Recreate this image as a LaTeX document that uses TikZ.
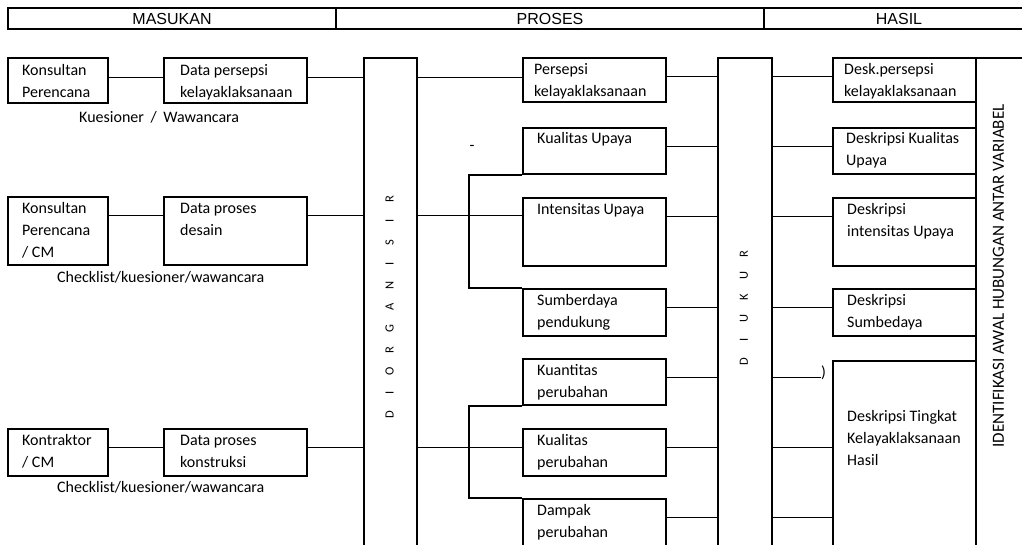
\documentclass[tikz,border=0pt]{standalone}
\usepackage{fontspec}
\setmainfont{Carlito}
\newfontfamily\headfont{Liberation Sans}
\usetikzlibrary{calc}
\newcommand\bodyf{\fontsize{16}{22}\selectfont}
\newcommand\headf{\headfont\fontsize{16}{19}\selectfont}
\newcommand\barf{\fontsize{12.5}{15}\selectfont}
\newcommand\idf{\fontsize{17}{19}\selectfont}
\newcommand\sletter[1]{\makebox[21.5pt]{#1}}
\begin{document}
\begin{tikzpicture}[x=1pt, y=-1pt,
  box/.style={draw, line width=2pt, inner sep=0pt, anchor=north west, minimum width=143pt},
  sbox/.style={box, minimum width=100pt},
  txt/.style={anchor=north west, align=left, inner sep=0pt, font=\bodyf, yshift=15.4pt},
  hdr/.style={draw, line width=2pt, anchor=north west, minimum height=21pt, inner sep=0pt, font=\headf},
  bar/.style={draw, line width=2pt, anchor=north west, minimum height=510pt, inner sep=0pt},
  conn/.style={line width=1pt},
  brk/.style={line width=2pt},
  vtxt/.style={rotate=90, inner sep=0pt, font=\barf}
]
\clip (0,0) rectangle (1022,544);
% header
\node[hdr, minimum width=328pt] (hm) at (7,7) {MASUKAN};
\node[hdr, minimum width=428pt] (hp) at (335,7) {PROSES};
\node[hdr, minimum width=270pt] (hh) at (763,7) {HASIL};
% left column
\node[sbox, minimum height=45pt] (k1) at (7,57) {};
\node[txt] (k1t) at ($(k1.north west)+(15,18)$) {\strut Konsultan\\Perencana};
\node[box, minimum height=45pt] (d1) at (163,57) {};
\node[txt] (d1t) at ($(d1.north west)+(17,18)$) {\strut Data persepsi\\kelayaklaksanaan};
\node[txt] (c1) at (79,122) {\strut Kuesioner\hspace{3pt} / \hspace{3pt}Wawancara};
\node[sbox, minimum height=68pt] (k2) at (7,196) {};
\node[txt] (k2t) at ($(k2.north west)+(15,17)$) {\strut Konsultan\\Perencana\\/ CM};
\node[box, minimum height=68pt] (d2) at (163,196) {};
\node[txt] (d2t) at ($(d2.north west)+(17,17)$) {\strut Data proses\\desain};
\node[txt] (c2) at (57,282) {\strut Checklist/kuesioner/wawancara};
\node[sbox, minimum height=47pt] (k3) at (7,428) {};
\node[txt] (k3t) at ($(k3.north west)+(15,17)$) {\strut Kontraktor\\/ CM};
\node[box, minimum height=47pt] (d3) at (163,428) {};
\node[txt] (d3t) at ($(d3.north west)+(17,17)$) {\strut Data proses\\konstruksi};
\node[txt] (c3) at (57,492) {\strut Checklist/kuesioner/wawancara};
% bars
\node[bar, minimum width=53pt] (org) at (363,57) {};
\node[vtxt] (orgt) at (389.5,307) {\sletter D\sletter I\sletter O\sletter R\sletter G\sletter A\sletter N\sletter I\sletter S\sletter I\sletter R};
\node[bar, minimum width=54pt] (ukr) at (717,57) {};
\node[vtxt] (ukrt) at (744,307.5) {\sletter D\sletter I\sletter U\sletter K\sletter U\sletter R};
% middle column
\node[box, minimum height=44pt] (p1) at (522,57) {};
\node[txt] (p1t) at ($(p1.north west)+(12,17)$) {\strut Persepsi\\kelayaklaksanaan};
\node[box, minimum height=46pt] (p2) at (522,127) {};
\node[txt] (p2t) at ($(p2.north west)+(15,16)$) {\strut Kualitas Upaya};
\node[box, minimum height=68pt] (p3) at (522,197) {};
\node[txt] (p3t) at ($(p3.north west)+(15,17)$) {\strut Intensitas Upaya};
\node[box, minimum height=47pt] (p4) at (522,288) {};
\node[txt] (p4t) at ($(p4.north west)+(15,17)$) {\strut Sumberdaya\\pendukung};
\node[box, minimum height=46pt] (p5) at (522,358) {};
\node[txt] (p5t) at ($(p5.north west)+(15,17)$) {\strut Kuantitas\\perubahan};
\node[box, minimum height=47pt] (p6) at (522,428) {};
\node[txt] (p6t) at ($(p6.north west)+(15,17)$) {\strut Kualitas\\perubahan};
\node[box, minimum height=62pt] (p7) at (522,498) {};
\node[txt] (p7t) at ($(p7.north west)+(15,17)$) {\strut Dampak\\perubahan};
\node[inner sep=0pt, anchor=base, font=\bodyf] (dash) at (472,150) {-};
% right column
\node[box, minimum height=44pt] (r1) at (832,57) {};
\node[txt] (r1t) at ($(r1.north west)+(12,17)$) {\strut Desk.persepsi\\kelayaklaksanaan};
\node[box, minimum height=46pt] (r2) at (832,127) {};
\node[txt] (r2t) at ($(r2.north west)+(14,16)$) {\strut Deskripsi Kualitas\\Upaya};
\node[box, minimum height=68pt] (r3) at (832,197) {};
\node[txt] (r3t) at ($(r3.north west)+(15,17)$) {\strut Deskripsi\\intensitas Upaya};
\node[box, minimum height=47pt] (r4) at (832,288) {};
\node[txt] (r4t) at ($(r4.north west)+(15,17)$) {\strut Deskripsi\\Sumbedaya};
\node[box, minimum height=210pt] (r5) at (832,360) {};
\node[txt] (r5t) at ($(r5.north west)+(15,61)$) {\strut Deskripsi Tingkat\\Kelayaklaksanaan\\Hasil};
\node[box, minimum width=70pt, minimum height=510pt] (idb) at (975,57) {};
\node[rotate=90, inner sep=0pt, font=\idf] (idt) at (998.5,276) {IDENTIFIKASI AWAL HUBUNGAN ANTAR VARIABEL};
% row coordinates
\coordinate (L1) at ($(k1.north west)+(0,20)$);
\coordinate (L2) at ($(k2.north west)+(0,19)$);
\coordinate (L3) at ($(k3.north west)+(0,19)$);
\foreach \n in {1,...,7}{\coordinate (M\n) at ($(p\n.north west)+(0,19)$);}
% left connectors
\draw[conn] (L1 -| k1.east) -- (L1 -| d1.west);
\draw[conn] (L1 -| d1.east) -- (L1 -| org.west);
\draw[conn] (L1 -| org.east) -- (L1 -| p1.west);
\draw[conn] (L2 -| k2.east) -- (L2 -| d2.west);
\draw[conn] (L2 -| d2.east) -- (L2 -| org.west);
\draw[conn] (L2 -| org.east) -- (L2 -| p3.west);
\draw[conn] (L3 -| k3.east) -- (L3 -| d3.west);
\draw[conn] (L3 -| d3.east) -- (L3 -| org.west);
\draw[conn] (L3 -| org.east) -- (L3 -| p6.west);
% brackets
\draw[brk] (p2.south west) -- ++(-53,0) |- (p4.north west);
\draw[brk] (p5.south west) -- ++(-53,0) |- (p7.north west);
% middle to ukur
\foreach \n in {1,...,7}{\draw[conn] (M\n -| p\n.east) -- (M\n -| ukr.west);}
% ukur to results
\draw[conn] (M1 -| ukr.east) -- (M1 -| r1.west);
\draw[conn] (M2 -| ukr.east) -- (M2 -| r2.west);
\draw[conn] (M3 -| ukr.east) -- (M3 -| r3.west);
\draw[conn] (M4 -| ukr.east) -- (M4 -| r4.west);
\node[inner sep=0pt, anchor=base west, font=\bodyf] (paren) at ($(M5)+(299,0)$) {)};
\draw[conn] (M5 -| ukr.east) -- (paren.base west);
\draw[conn] (M6 -| ukr.east) -- (M6 -| r5.west);
\draw[conn] (M7 -| ukr.east) -- (M7 -| r5.west);
\end{tikzpicture}
\end{document}
